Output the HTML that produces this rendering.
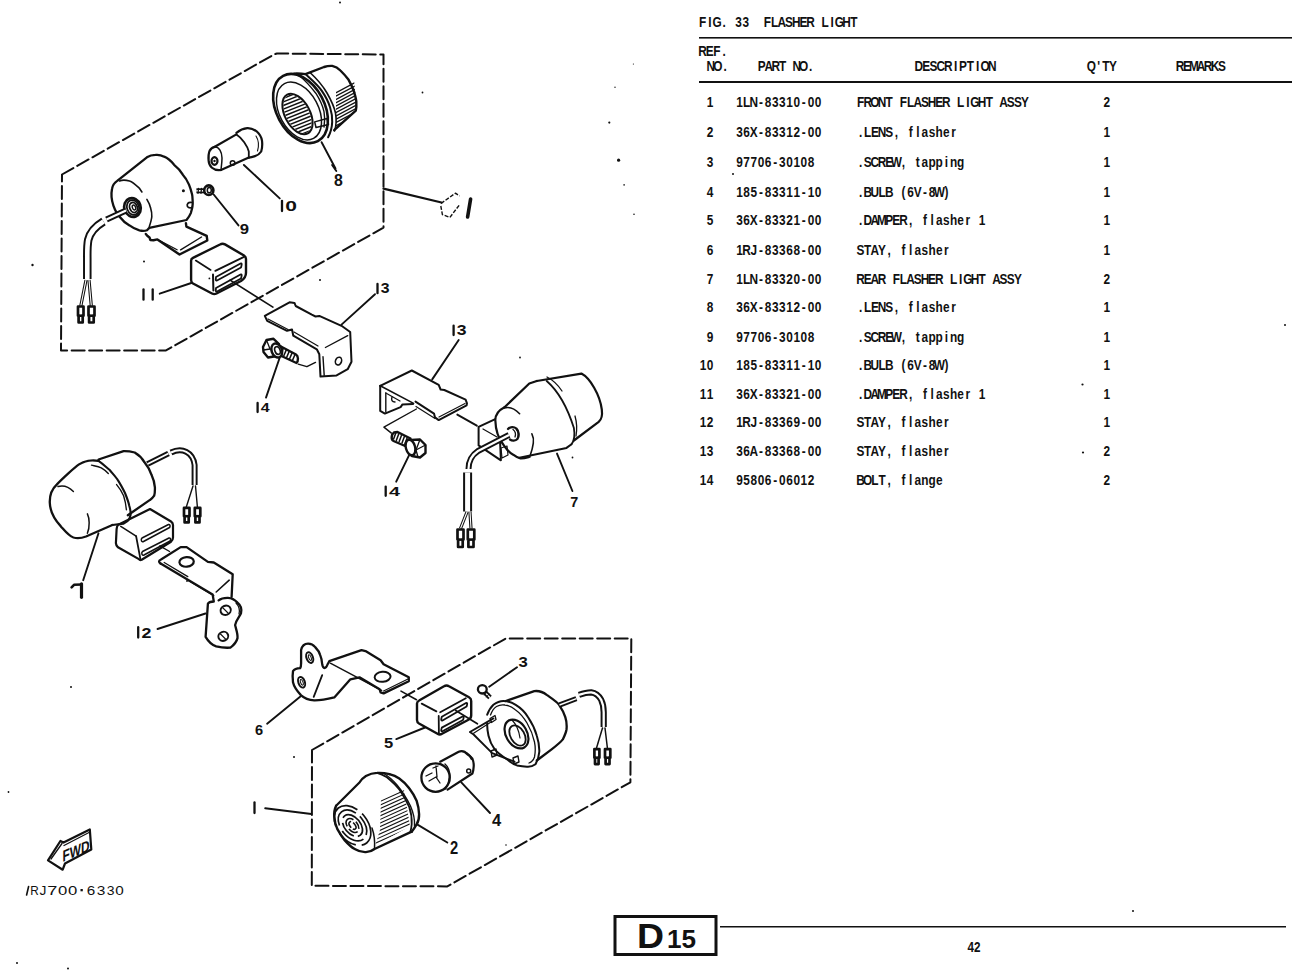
<!DOCTYPE html>
<html><head><meta charset="utf-8">
<style>
html,body{margin:0;padding:0;background:#fff;width:1292px;height:973px;overflow:hidden}
svg{position:absolute;left:0;top:0}
.tt text{font-family:"Liberation Sans",sans-serif;font-size:14.8px;font-weight:bold;fill:#111}
.lbl text{font-family:"Liberation Sans",sans-serif;font-weight:bold;fill:#111}
</style></head><body>
<svg width="1292" height="973" viewBox="0 0 1292 973">
<g class="tt">
<text transform="scale(0.8,1)" x="873.73 885.19 890.49 903.19 912.19 919.13 928.13 939.19 948.19 954.73 963.73 971.91 981.31 989.91 999.31 1007.91 1020.19 1026.73 1038.19 1043.49 1052.91 1062.73" y="26.6">FIG. 33  FLASHER LIGHT</text>
<text transform="scale(0.8,1)" x="872.91 882.31 891.73 903.19" y="56.3">REF.</text>
<text transform="scale(0.8,1)" x="883.03 891.62 904.32" y="70.9">NO.</text>
<text transform="scale(0.8,1)" x="947.19 955.53 964.28 973.85 985.07 990.53 998.87 1011.32" y="70.9">PART NO.</text>
<text transform="scale(0.8,1)" x="1143.13 1152.74 1161.94 1170.73 1179.93 1192.42 1198.74 1208.35 1220.02 1225.52 1235.13" y="70.9">DESCRIPTION</text>
<text transform="scale(0.8,1)" x="1358.40 1371.46 1377.76 1386.41" y="70.9">Q'TY</text>
<text transform="scale(0.8,1)" x="1469.66 1478.81 1486.34 1495.91 1504.66 1513.41 1522.56" y="70.9">REMARKS</text>
<text transform="scale(0.8,1)" x="883.54" y="107.4">1</text>
<text transform="scale(0.8,1)" x="920.23 928.76 936.87 948.69 955.98 964.92 973.85 982.79 991.73 1002.32 1009.60 1018.54" y="107.4">1LN-83310-00</text>
<text transform="scale(0.8,1)" x="1071.20 1079.31 1087.84 1097.19 1106.95 1118.35 1124.82 1133.76 1141.87 1151.22 1159.75 1169.10 1177.62 1189.85 1196.32 1207.73 1212.96 1222.31 1232.07 1243.48 1249.12 1258.47 1267.41 1276.35" y="107.4">FRONT FLASHER LIGHT ASSY</text>
<text transform="scale(0.8,1)" x="1379.35" y="107.4">2</text>
<text transform="scale(0.8,1)" x="883.54" y="137.0">2</text>
<text transform="scale(0.8,1)" x="920.23 929.17 937.28 948.69 955.98 964.92 973.85 982.79 991.73 1002.32 1009.60 1018.54" y="137.0">36X-83312-00</text>
<text transform="scale(0.8,1)" x="1073.66 1080.14 1088.66 1097.19 1106.53 1118.35 1127.29 1135.82 1145.16 1152.04 1160.98 1169.51 1178.85 1189.03" y="137.0">.LENS, flasher</text>
<text transform="scale(0.8,1)" x="1379.35" y="137.0">1</text>
<text transform="scale(0.8,1)" x="883.54" y="166.8">3</text>
<text transform="scale(0.8,1)" x="920.23 929.17 938.10 947.04 955.98 966.57 973.85 982.79 991.73 1000.67 1009.60" y="166.8">97706-30108</text>
<text transform="scale(0.8,1)" x="1073.66 1079.72 1088.25 1097.19 1106.53 1113.42 1127.29 1136.23 1144.75 1152.04 1160.57 1169.51 1180.91 1187.39 1196.32" y="166.8">.SCREW, tapping</text>
<text transform="scale(0.8,1)" x="1379.35" y="166.8">1</text>
<text transform="scale(0.8,1)" x="883.54" y="196.6">4</text>
<text transform="scale(0.8,1)" x="920.23 929.17 938.10 948.69 955.98 964.92 973.85 982.79 991.73 1002.32 1009.60 1018.54" y="196.6">185-83311-10</text>
<text transform="scale(0.8,1)" x="1073.66 1079.31 1088.25 1098.01 1106.12 1118.35 1126.88 1134.17 1142.28 1153.69 1160.98 1167.05 1180.50" y="196.6">.BULB (6V-8W)</text>
<text transform="scale(0.8,1)" x="1379.35" y="196.6">1</text>
<text transform="scale(0.8,1)" x="883.54" y="225.4">5</text>
<text transform="scale(0.8,1)" x="920.23 929.17 937.28 948.69 955.98 964.92 973.85 982.79 991.73 1002.32 1009.60 1018.54" y="225.4">36X-83321-00</text>
<text transform="scale(0.8,1)" x="1073.66 1079.31 1088.25 1096.37 1106.53 1115.47 1124.00 1136.23 1145.16 1153.69 1163.04 1169.92 1178.85 1187.39 1196.73 1206.90 1216.66 1223.54" y="225.4">.DAMPER, flasher 1</text>
<text transform="scale(0.8,1)" x="1379.35" y="225.4">1</text>
<text transform="scale(0.8,1)" x="883.54" y="254.9">6</text>
<text transform="scale(0.8,1)" x="920.23 927.94 938.10 948.69 955.98 964.92 973.85 982.79 991.73 1002.32 1009.60 1018.54" y="254.9">1RJ-83368-00</text>
<text transform="scale(0.8,1)" x="1070.78 1080.14 1088.25 1097.60 1109.41 1118.35 1126.88 1136.23 1143.10 1152.04 1160.57 1169.92 1180.09" y="254.9">STAY, flasher</text>
<text transform="scale(0.8,1)" x="1379.35" y="254.9">1</text>
<text transform="scale(0.8,1)" x="883.54" y="283.6">7</text>
<text transform="scale(0.8,1)" x="920.23 928.76 936.87 948.69 955.98 964.92 973.85 982.79 991.73 1002.32 1009.60 1018.54" y="283.6">1LN-83320-00</text>
<text transform="scale(0.8,1)" x="1070.37 1079.72 1088.25 1097.19 1109.41 1115.89 1124.82 1132.94 1142.28 1150.81 1160.16 1168.69 1180.91 1187.39 1198.79 1204.03 1213.37 1223.14 1234.54 1240.19 1249.53 1258.47 1267.41" y="283.6">REAR FLASHER LIGHT ASSY</text>
<text transform="scale(0.8,1)" x="1379.35" y="283.6">2</text>
<text transform="scale(0.8,1)" x="883.54" y="312.1">8</text>
<text transform="scale(0.8,1)" x="920.23 929.17 937.28 948.69 955.98 964.92 973.85 982.79 991.73 1002.32 1009.60 1018.54" y="312.1">36X-83312-00</text>
<text transform="scale(0.8,1)" x="1073.66 1080.14 1088.66 1097.19 1106.53 1118.35 1127.29 1135.82 1145.16 1152.04 1160.98 1169.51 1178.85 1189.03" y="312.1">.LENS, flasher</text>
<text transform="scale(0.8,1)" x="1379.35" y="312.1">1</text>
<text transform="scale(0.8,1)" x="883.54" y="341.6">9</text>
<text transform="scale(0.8,1)" x="920.23 929.17 938.10 947.04 955.98 966.57 973.85 982.79 991.73 1000.67 1009.60" y="341.6">97706-30108</text>
<text transform="scale(0.8,1)" x="1073.66 1079.72 1088.25 1097.19 1106.53 1113.42 1127.29 1136.23 1144.75 1152.04 1160.57 1169.51 1180.91 1187.39 1196.32" y="341.6">.SCREW, tapping</text>
<text transform="scale(0.8,1)" x="1379.35" y="341.6">1</text>
<text transform="scale(0.8,1)" x="874.60 883.54" y="370.3">10</text>
<text transform="scale(0.8,1)" x="920.23 929.17 938.10 948.69 955.98 964.92 973.85 982.79 991.73 1002.32 1009.60 1018.54" y="370.3">185-83311-10</text>
<text transform="scale(0.8,1)" x="1073.66 1079.31 1088.25 1098.01 1106.12 1118.35 1126.88 1134.17 1142.28 1153.69 1160.98 1167.05 1180.50" y="370.3">.BULB (6V-8W)</text>
<text transform="scale(0.8,1)" x="1379.35" y="370.3">1</text>
<text transform="scale(0.8,1)" x="874.60 883.54" y="398.8">11</text>
<text transform="scale(0.8,1)" x="920.23 929.17 937.28 948.69 955.98 964.92 973.85 982.79 991.73 1002.32 1009.60 1018.54" y="398.8">36X-83321-00</text>
<text transform="scale(0.8,1)" x="1073.66 1079.31 1088.25 1096.37 1106.53 1115.47 1124.00 1136.23 1145.16 1153.69 1163.04 1169.92 1178.85 1187.39 1196.73 1206.90 1216.66 1223.54" y="398.8">.DAMPER, flasher 1</text>
<text transform="scale(0.8,1)" x="1379.35" y="398.8">1</text>
<text transform="scale(0.8,1)" x="874.60 883.54" y="427.2">12</text>
<text transform="scale(0.8,1)" x="920.23 927.94 938.10 948.69 955.98 964.92 973.85 982.79 991.73 1002.32 1009.60 1018.54" y="427.2">1RJ-83369-00</text>
<text transform="scale(0.8,1)" x="1070.78 1080.14 1088.25 1097.60 1109.41 1118.35 1126.88 1136.23 1143.10 1152.04 1160.57 1169.92 1180.09" y="427.2">STAY, flasher</text>
<text transform="scale(0.8,1)" x="1379.35" y="427.2">1</text>
<text transform="scale(0.8,1)" x="874.60 883.54" y="455.6">13</text>
<text transform="scale(0.8,1)" x="920.23 929.17 936.87 948.69 955.98 964.92 973.85 982.79 991.73 1002.32 1009.60 1018.54" y="455.6">36A-83368-00</text>
<text transform="scale(0.8,1)" x="1070.78 1080.14 1088.25 1097.60 1109.41 1118.35 1126.88 1136.23 1143.10 1152.04 1160.57 1169.92 1180.09" y="455.6">STAY, flasher</text>
<text transform="scale(0.8,1)" x="1379.35" y="455.6">2</text>
<text transform="scale(0.8,1)" x="874.60 883.54" y="485.0">14</text>
<text transform="scale(0.8,1)" x="920.23 929.17 938.10 947.04 955.98 966.57 973.85 982.79 991.73 1000.67 1009.60" y="485.0">95806-06012</text>
<text transform="scale(0.8,1)" x="1070.37 1078.90 1089.07 1098.01 1109.41 1118.35 1126.88 1136.23 1143.10 1151.64 1160.57 1169.92" y="485.0">BOLT, flange</text>
<text transform="scale(0.8,1)" x="1379.35" y="485.0">2</text>
</g>
<rect x="699" y="37" width="593" height="1.6" fill="#111"/>
<rect x="699" y="81" width="593" height="2" fill="#111"/>
<rect x="720" y="926" width="566" height="1.5" fill="#111"/>
<rect x="615" y="916.5" width="101" height="38" fill="none" stroke="#111" stroke-width="3"/>
<text x="637" y="948.3" style="font-family:'Liberation Sans',sans-serif;font-weight:bold;font-size:35px;fill:#111" textLength="27" lengthAdjust="spacingAndGlyphs">D</text>
<text x="667" y="948.3" style="font-family:'Liberation Sans',sans-serif;font-weight:bold;font-size:26px;fill:#111" textLength="29" lengthAdjust="spacingAndGlyphs">15</text>
<text x="967.5" y="951.8" style="font-family:'Liberation Sans',sans-serif;font-size:14px;font-weight:bold;fill:#111" textLength="13" lengthAdjust="spacingAndGlyphs">42</text>
<path d="M 62.0 174.5 L 274.0 54.5 L 277.0 53.5 L 383.5 54.5 L 383.5 227.6 L 166.0 350.4 L 61.0 350.4 Z" fill="none" stroke="#111" stroke-width="2" stroke-linejoin="round" stroke-linecap="round" stroke-dasharray="13 4.5"/>
<line x1="383.5" y1="188.6" x2="441.5" y2="202.5" stroke="#111" stroke-width="2.3" stroke-linecap="round"/>
<path d="M 441 203.5 L 455.4 193.2 L 459.6 196 M 459.1 205.3 L 449.9 217.4 L 442.4 214.6 L 440.8 206" fill="none" stroke="#111" stroke-width="1.4" stroke-dasharray="4 1.6" stroke-linejoin="round"/>
<line x1="470.6" y1="199" x2="467.6" y2="217" stroke="#111" stroke-width="3.6" stroke-linecap="round"/>
<path d="M 117.2 180.9 C 114 183, 112.5 186, 112 189 C 111 194, 111.5 200, 113.4 205.6 C 115 210, 117 214, 119.6 216.8 C 122 220, 126 223.5, 129.5 225.4 C 133 228, 136 229.5, 139.4 230.4 C 142 231, 145 231, 147 230.2 L 149.3 227.9 L 186.5 220 C 189 217, 190 215, 190.8 213.1 C 192 209, 193 206, 192.7 202 C 192.5 198, 192.5 196, 192.1 194.5 C 191 190, 190 187, 189 184.6 C 187 180, 185 177, 182.8 174.7 C 180 170, 177 167, 174.1 164.8 C 171 161, 168 158, 164.2 156.7 C 161 155, 158 154.6, 155.5 154.9 C 152 155, 149 156, 146.9 157.3 Z" fill="none" stroke="#111" stroke-width="2.3" stroke-linejoin="round" stroke-linecap="round" />
<path d="M 119.6 180.9 C 123 179.5, 126 180, 129.5 180.9 C 133 182, 136 185, 139.4 188.3 L 141.9 192" fill="none" stroke="#111" stroke-width="1.6" stroke-linejoin="round" stroke-linecap="round" />
<path d="M 146.9 199.4 C 148.5 202, 150 205, 150.6 208.1 C 151.5 211, 152 214, 151.8 216.8 C 151.5 220, 150.5 223, 149.3 226.7" fill="none" stroke="#111" stroke-width="1.6" stroke-linejoin="round" stroke-linecap="round" />
<ellipse cx="132.5" cy="207.5" rx="8.2" ry="9.5" transform="rotate(-20 132.5 207.5)" fill="none" stroke="#111" stroke-width="2.6"/>
<ellipse cx="133" cy="207.5" rx="6" ry="7.5" transform="rotate(-20 133 207.5)" fill="none" stroke="#111" stroke-width="1.8"/>
<ellipse cx="133.5" cy="207.5" rx="3.8" ry="5.2" transform="rotate(-20 133.5 207.5)" fill="none" stroke="#111" stroke-width="1.8"/>
<ellipse cx="134" cy="207.5" rx="1.6" ry="2.6" transform="rotate(-20 134 207.5)" fill="none" stroke="#111" stroke-width="1.4"/>
<path d="M 126 210.5 L 106.5 219.5" fill="none" stroke="#111" stroke-width="6.2" stroke-linecap="butt" stroke-linejoin="round"/>
<path d="M 126 210.5 L 106.5 219.5" fill="none" stroke="#fff" stroke-width="2.1" stroke-linecap="butt" stroke-linejoin="round"/>
<path d="M 103.5 221.5 C 96 226, 90 232, 88.2 240 C 87.3 245, 87.2 250, 87.3 258 L 87.3 279" fill="none" stroke="#111" stroke-width="8.5" stroke-linecap="butt" stroke-linejoin="round"/>
<path d="M 103.5 221.5 C 96 226, 90 232, 88.2 240 C 87.3 245, 87.2 250, 87.3 258 L 87.3 279" fill="none" stroke="#fff" stroke-width="4.6" stroke-linecap="butt" stroke-linejoin="round"/>
<path d="M 86 280 L 80.8 306" fill="none" stroke="#111" stroke-width="3.2" stroke-linecap="butt" stroke-linejoin="round"/>
<path d="M 86 280 L 80.8 306" fill="none" stroke="#fff" stroke-width="1.1" stroke-linecap="butt" stroke-linejoin="round"/>
<path d="M 89 280 L 91.3 306" fill="none" stroke="#111" stroke-width="3.2" stroke-linecap="butt" stroke-linejoin="round"/>
<path d="M 89 280 L 91.3 306" fill="none" stroke="#fff" stroke-width="1.1" stroke-linecap="butt" stroke-linejoin="round"/>
<path d="M 78.0 306.5 L 83.5 306.5 L 83.5 315.7 L 82.7 315.7 L 82.7 322.5 L 78.6 322.5 L 78.6 315.7 L 78.0 315.7 Z" fill="none" stroke="#111" stroke-width="2.7" stroke-linejoin="round"/>
<line x1="78.0" y1="315.7" x2="83.5" y2="315.7" stroke="#111" stroke-width="2.6"/>
<path d="M 88.5 306.5 L 94.5 306.5 L 94.5 315.7 L 93.7 315.7 L 93.7 322.5 L 89.1 322.5 L 89.1 315.7 L 88.5 315.7 Z" fill="none" stroke="#111" stroke-width="2.7" stroke-linejoin="round"/>
<line x1="88.5" y1="315.7" x2="94.5" y2="315.7" stroke="#111" stroke-width="2.6"/>
<path d="M 192 202.5 C 188 201.5, 186.5 204.5, 187.5 206.5 C 188.5 208, 190.5 208, 192 207.5" fill="none" stroke="#111" stroke-width="1.7" stroke-linejoin="round" stroke-linecap="round" />
<circle cx="183.4" cy="190.8" r="1.5" fill="#111"/>
<path d="M 145.8 234 L 147.5 236 L 149.5 237.5 L 150.4 240 L 153.5 240.2 L 157.4 239.4 L 179.5 254.5 L 207.3 240.5 L 206.7 235.9 L 186.4 226.6 L 185.9 223.2" fill="none" stroke="#111" stroke-width="2.4" stroke-linejoin="round" stroke-linecap="round" />
<line x1="180.6" y1="249.8" x2="201.5" y2="237" stroke="#111" stroke-width="1.4" stroke-linecap="round"/>
<line x1="158.6" y1="240" x2="177.1" y2="249.8" stroke="#111" stroke-width="1.3" stroke-linecap="round"/>
<path d="M 196.4 190.8 L 205 190.8" fill="none" stroke="#111" stroke-width="5" stroke-linecap="butt" stroke-linejoin="round"/>
<path d="M 196.4 190.8 L 205 190.8" fill="none" stroke="#fff" stroke-width="1.6" stroke-linecap="butt" stroke-linejoin="round"/>
<line x1="198.5" y1="188.3" x2="198" y2="193.3" stroke="#111" stroke-width="1.3" stroke-linecap="round"/>
<line x1="201.5" y1="188.3" x2="201" y2="193.3" stroke="#111" stroke-width="1.3" stroke-linecap="round"/>
<ellipse cx="208.8" cy="190.2" rx="4.6" ry="4.8" transform="rotate(0 208.8 190.2)" fill="none" stroke="#111" stroke-width="2.6"/>
<ellipse cx="209.3" cy="190.2" rx="2" ry="2.6" transform="rotate(0 209.3 190.2)" fill="none" stroke="#111" stroke-width="1.5"/>
<line x1="213.7" y1="194.5" x2="238.5" y2="225.4" stroke="#111" stroke-width="1.9" stroke-linecap="round"/>
<path d="M 214.8 146.8 C 210 147.5, 208 153, 208.6 160.7 C 209 166, 213 171, 221 170" fill="none" stroke="#111" stroke-width="2.2" stroke-linejoin="round" stroke-linecap="round" />
<path d="M 214.8 146.8 C 219 147, 222 152, 222 158 C 222 164, 221 168, 221 170" fill="none" stroke="#111" stroke-width="1.5" stroke-linejoin="round" stroke-linecap="round" />
<ellipse cx="214.5" cy="161" rx="3" ry="3.8" transform="rotate(0 214.5 161)" fill="none" stroke="#111" stroke-width="2.2"/>
<circle cx="214.5" cy="161" r="1.2" fill="#111"/>
<line x1="214.8" y1="146.8" x2="236.4" y2="134.4" stroke="#111" stroke-width="2.2" stroke-linecap="round"/>
<line x1="221" y1="170" x2="248.8" y2="157.6" stroke="#111" stroke-width="2.2" stroke-linecap="round"/>
<path d="M 236.4 132.9 C 240 130, 244 128.5, 247.3 128.2 C 251 128, 254 129.5, 256.6 131.3 C 259.5 134, 261.5 137, 262 140.6 C 262.5 145, 262 149, 261.2 151.5 C 259.5 154, 257.5 155.5, 255 156.1 C 252.5 157, 250.5 157.5, 248.8 157.6" fill="none" stroke="#111" stroke-width="2.2" stroke-linejoin="round" stroke-linecap="round" />
<path d="M 236.4 134.4 C 239 136, 242 139, 244.2 142.2 C 246.5 145.5, 248 148, 248.8 151.5 L 248.8 157.6" fill="none" stroke="#111" stroke-width="1.8" stroke-linejoin="round" stroke-linecap="round" />
<path d="M 256 136 C 258.5 140, 259 146, 257.5 151" fill="none" stroke="#111" stroke-width="1.1" stroke-linejoin="round" stroke-linecap="round" />
<circle cx="232.6" cy="163" r="2.3" fill="none" stroke="#111" stroke-width="1.5"/>
<line x1="243.9" y1="165" x2="279.7" y2="198.4" stroke="#111" stroke-width="1.9" stroke-linecap="round"/>
<ellipse cx="300.5" cy="108.5" rx="24" ry="37" transform="rotate(-28 300.5 108.5)" fill="none" stroke="#111" stroke-width="2.6"/>
<ellipse cx="299" cy="111" rx="19.5" ry="31" transform="rotate(-28 299 111)" fill="none" stroke="#111" stroke-width="1.5"/>
<ellipse cx="297.5" cy="114" rx="12.5" ry="22" transform="rotate(-28 297.5 114)" fill="none" stroke="#111" stroke-width="2"/>
<clipPath id="c8"><ellipse cx="297.5" cy="114" rx="11.5" ry="21" transform="rotate(-28 297.5 114)"/></clipPath>
<g clip-path="url(#c8)"><line x1="270" y1="100.0" x2="325" y2="78.0" stroke="#111" stroke-width="1.5"/><line x1="270" y1="103.6" x2="325" y2="81.6" stroke="#111" stroke-width="1.5"/><line x1="270" y1="107.2" x2="325" y2="85.2" stroke="#111" stroke-width="1.5"/><line x1="270" y1="110.8" x2="325" y2="88.8" stroke="#111" stroke-width="1.5"/><line x1="270" y1="114.4" x2="325" y2="92.4" stroke="#111" stroke-width="1.5"/><line x1="270" y1="118.0" x2="325" y2="96.0" stroke="#111" stroke-width="1.5"/><line x1="270" y1="121.6" x2="325" y2="99.6" stroke="#111" stroke-width="1.5"/><line x1="270" y1="125.2" x2="325" y2="103.2" stroke="#111" stroke-width="1.5"/><line x1="270" y1="128.8" x2="325" y2="106.8" stroke="#111" stroke-width="1.5"/><line x1="270" y1="132.4" x2="325" y2="110.4" stroke="#111" stroke-width="1.5"/><line x1="270" y1="136.0" x2="325" y2="114.0" stroke="#111" stroke-width="1.5"/><line x1="270" y1="139.6" x2="325" y2="117.6" stroke="#111" stroke-width="1.5"/><line x1="270" y1="143.2" x2="325" y2="121.2" stroke="#111" stroke-width="1.5"/><line x1="270" y1="146.8" x2="325" y2="124.80000000000001" stroke="#111" stroke-width="1.5"/><line x1="270" y1="150.4" x2="325" y2="128.4" stroke="#111" stroke-width="1.5"/><line x1="270" y1="154.0" x2="325" y2="132.0" stroke="#111" stroke-width="1.5"/><line x1="270" y1="157.6" x2="325" y2="135.6" stroke="#111" stroke-width="1.5"/><line x1="270" y1="161.2" x2="325" y2="139.2" stroke="#111" stroke-width="1.5"/></g>
<path d="M 294.2 73.6 C 298 73.5, 302 73.6, 305.5 74.1 L 324 67 C 327 66, 330 65.8, 332.2 65.9 C 335 66.5, 338 68, 340.4 70.5 C 344 74, 346.5 77, 348.6 79.8 C 351 84, 352.5 87, 353.8 91.1 C 355 95, 356 98, 356.3 101.4 C 356.5 105, 356.5 108, 355.8 110.6 L 334.2 130.1" fill="none" stroke="#111" stroke-width="2.4" stroke-linejoin="round" stroke-linecap="round" />
<path d="M 305.5 74.1 C 312 80, 318 85, 322 91.1 C 326 97, 328.5 102, 330.1 107.5 C 331.5 112, 332.5 117, 332.2 121.9 C 332 127, 331 132, 328.1 137.3" fill="none" stroke="#111" stroke-width="2" stroke-linejoin="round" stroke-linecap="round" />
<path d="M 310 72.5 C 317 79, 323 86, 327 93 C 331 100, 334 106, 335.5 113 C 336.5 119, 336.5 125, 334.5 131" fill="none" stroke="#111" stroke-width="1.6" stroke-linejoin="round" stroke-linecap="round" />
<path d="M 299.3 75.7 C 306 81, 311 87, 315.8 93.2 C 319.5 99, 322.5 105, 324 111.6 C 325 117, 325 122, 324 127" fill="none" stroke="#111" stroke-width="1.4" stroke-linejoin="round" stroke-linecap="round" />
<path d="M 314.7 121.9 L 327.0 118.5 L 328.5 124.5 L 316.0 127.5 Z" fill="none" stroke="#111" stroke-width="1.5" stroke-linejoin="round" stroke-linecap="round"/>
<clipPath id="c8b"><path d="M 336 86 L 354 80 L 357 108 L 336 128 Z"/></clipPath>
<g clip-path="url(#c8b)"><line x1="330" y1="96.0" x2="360" y2="80.0" stroke="#111" stroke-width="1.3"/><line x1="330" y1="99.3" x2="360" y2="83.3" stroke="#111" stroke-width="1.3"/><line x1="330" y1="102.6" x2="360" y2="86.6" stroke="#111" stroke-width="1.3"/><line x1="330" y1="105.9" x2="360" y2="89.9" stroke="#111" stroke-width="1.3"/><line x1="330" y1="109.2" x2="360" y2="93.2" stroke="#111" stroke-width="1.3"/><line x1="330" y1="112.5" x2="360" y2="96.5" stroke="#111" stroke-width="1.3"/><line x1="330" y1="115.8" x2="360" y2="99.8" stroke="#111" stroke-width="1.3"/><line x1="330" y1="119.1" x2="360" y2="103.1" stroke="#111" stroke-width="1.3"/><line x1="330" y1="122.4" x2="360" y2="106.4" stroke="#111" stroke-width="1.3"/><line x1="330" y1="125.7" x2="360" y2="109.7" stroke="#111" stroke-width="1.3"/><line x1="330" y1="129.0" x2="360" y2="113.0" stroke="#111" stroke-width="1.3"/><line x1="330" y1="132.3" x2="360" y2="116.3" stroke="#111" stroke-width="1.3"/><line x1="330" y1="135.6" x2="360" y2="119.6" stroke="#111" stroke-width="1.3"/></g>
<line x1="321.6" y1="142.2" x2="335.5" y2="168.5" stroke="#111" stroke-width="1.9" stroke-linecap="round"/>
<line x1="332.1" y1="165" x2="336.3" y2="171" stroke="#111" stroke-width="1.9" stroke-linecap="round"/>
<path d="M 191.1 261 C 191 259.5, 191.5 258.5, 193 257.8 L 220 244.5 C 221.5 243.6, 223.5 243.6, 225 244.4 L 244 255.5 C 245.5 256.5, 246 257.5, 246 259 L 246 272.7 C 246 276, 244 279, 241 281 L 216.5 293.5 C 215 294.3, 213.5 294.3, 212 293.5 L 193 283.5 C 191.5 282.6, 191.1 281.5, 191.1 280 Z" fill="none" stroke="#111" stroke-width="2.4" stroke-linejoin="round" stroke-linecap="round" />
<line x1="195.8" y1="260.6" x2="210.6" y2="269.9" stroke="#111" stroke-width="1.8" stroke-linecap="round"/>
<line x1="213" y1="274.6" x2="213.4" y2="290.4" stroke="#111" stroke-width="2" stroke-linecap="round"/>
<line x1="215.3" y1="270.9" x2="244" y2="256.9" stroke="#111" stroke-width="1.8" stroke-linecap="round"/>
<path d="M 216 277 L 240.5 263.5 C 241.5 263, 242 264, 241.5 265.5 L 241 267.5 L 217 280.5 C 216 281, 215.5 280, 215.8 279 Z" fill="none" stroke="#111" stroke-width="1.8" stroke-linejoin="round" stroke-linecap="round" />
<path d="M 216 288 L 240.5 274.5 C 241.5 274, 242 275, 241.5 276.5 L 241 278.5 L 217 291.5 C 216 292, 215.5 291, 215.8 290 Z" fill="none" stroke="#111" stroke-width="1.8" stroke-linejoin="round" stroke-linecap="round" />
<line x1="159.7" y1="293.7" x2="191.3" y2="283" stroke="#111" stroke-width="1.9" stroke-linecap="round"/>
<line x1="230.1" y1="280.1" x2="272.9" y2="307.1" stroke="#111" stroke-width="1.7" stroke-linecap="round"/>
<path d="M 264.8 315.9 L 289.5 302.3 L 294.5 302.9 L 295.7 306.0 L 311.8 314.7 L 315.5 316.5 L 319.3 315.9 L 341.5 325.8 L 350.2 332.0 L 351.5 361.7 L 347.7 369.2 L 336.6 375.4 L 320.5 376.6 L 319.3 354.3 L 316.8 349.3 L 293.3 335.7 L 292.0 329.5 L 287.0 330.8 L 267.2 320.9 Z" fill="none" stroke="#111" stroke-width="2" stroke-linejoin="round" stroke-linecap="round"/>
<line x1="268" y1="319" x2="288" y2="329.5" stroke="#111" stroke-width="1.2" stroke-linecap="round"/>
<line x1="294" y1="332" x2="318" y2="346" stroke="#111" stroke-width="1.2" stroke-linecap="round"/>
<line x1="325.4" y1="347.5" x2="347.7" y2="335.7" stroke="#111" stroke-width="1.4" stroke-linecap="round"/>
<line x1="323" y1="356.8" x2="324.2" y2="375.4" stroke="#111" stroke-width="1.4" stroke-linecap="round"/>
<ellipse cx="338.5" cy="361.1" rx="3" ry="4" transform="rotate(20 338.5 361.1)" fill="none" stroke="#111" stroke-width="1.6"/>
<line x1="341.5" y1="324.6" x2="375" y2="294.2" stroke="#111" stroke-width="1.9" stroke-linecap="round"/>
<path d="M 279 345.5 L 296 354.5 C 298.5 356, 298.5 361, 296.5 363 L 276 353.5 Z" fill="#fff" stroke="#111" stroke-width="2.4" stroke-linejoin="round"/>
<line x1="283.5" y1="348.0" x2="280.9" y2="354.2" stroke="#111" stroke-width="1.5" stroke-linecap="round"/>
<line x1="286.4" y1="349.6" x2="283.8" y2="355.8" stroke="#111" stroke-width="1.5" stroke-linecap="round"/>
<line x1="289.3" y1="351.1" x2="286.7" y2="357.3" stroke="#111" stroke-width="1.5" stroke-linecap="round"/>
<line x1="292.2" y1="352.6" x2="289.6" y2="358.8" stroke="#111" stroke-width="1.5" stroke-linecap="round"/>
<line x1="295.1" y1="354.2" x2="292.5" y2="360.4" stroke="#111" stroke-width="1.5" stroke-linecap="round"/>
<polygon points="263,347 266.5,340 273.5,338.8 279,344 277,356 268,357.5 263.5,352" fill="#fff" stroke="#111" stroke-width="2.4" stroke-linejoin="round"/>
<line x1="266.5" y1="340" x2="270" y2="349" stroke="#111" stroke-width="1.3" stroke-linecap="round"/>
<line x1="263.5" y1="350" x2="270" y2="349" stroke="#111" stroke-width="1.3" stroke-linecap="round"/>
<ellipse cx="276.8" cy="350.5" rx="5.2" ry="7.2" transform="rotate(-20 276.8 350.5)" fill="#fff" stroke="#111" stroke-width="2.4"/>
<ellipse cx="277.5" cy="350.5" rx="2.6" ry="4" transform="rotate(-20 277.5 350.5)" fill="none" stroke="#111" stroke-width="1.6"/>
<line x1="279.6" y1="358" x2="266" y2="397.6" stroke="#111" stroke-width="1.9" stroke-linecap="round"/>
<path d="M 298.2 364.2 L 306.9 366.7 L 315.5 362.4" fill="none" stroke="#111" stroke-width="1.4" stroke-linejoin="round" stroke-linecap="round"/>
<path d="M 380.2 385.8 L 411.8 370.5 L 438.7 384.9 L 440.6 389.5 L 444.3 390.0 L 465.6 399.7 L 467.0 403.4 L 466.6 405.3 L 438.7 420.1 L 435.0 417.4 L 434.0 413.6 L 415.5 401.6" fill="none" stroke="#111" stroke-width="2" stroke-linejoin="round" stroke-linecap="round"/>
<path d="M 380.2 385.8 L 413.6 403.4" fill="none" stroke="#111" stroke-width="1.6" stroke-linejoin="round" stroke-linecap="round"/>
<path d="M 380.2 385.8 L 380.2 410.9 L 384.9 413.6 L 400.6 407.1 L 402.5 404.4 L 413.0 404.0" fill="none" stroke="#111" stroke-width="2" stroke-linejoin="round" stroke-linecap="round"/>
<line x1="385.8" y1="393" x2="385.8" y2="412" stroke="#111" stroke-width="1.4" stroke-linecap="round"/>
<path d="M 385.8 393.0 L 400.0 401.0" fill="none" stroke="#111" stroke-width="1.2" stroke-linejoin="round" stroke-linecap="round"/>
<path d="M 392 397 C 391 400, 392 402, 395 402" fill="none" stroke="#111" stroke-width="1.4" stroke-linejoin="round" stroke-linecap="round" />
<line x1="416" y1="406.5" x2="435" y2="418.5" stroke="#111" stroke-width="1.2" stroke-linecap="round"/>
<line x1="439" y1="417" x2="465" y2="403.5" stroke="#111" stroke-width="1.2" stroke-linecap="round"/>
<line x1="458.7" y1="340" x2="432.2" y2="379.4" stroke="#111" stroke-width="1.9" stroke-linecap="round"/>
<path d="M 416.4 409.0 L 383.9 427.1 L 391.4 433.1" fill="none" stroke="#111" stroke-width="1.4" stroke-linejoin="round" stroke-linecap="round"/>
<path d="M 397.5 432 L 410.5 438.5 L 407.5 447 L 393.5 441 C 391 440, 391 434.5, 394 432.5 Z" fill="#fff" stroke="#111" stroke-width="2.4" stroke-linejoin="round"/>
<line x1="396.0" y1="432.5" x2="393.6" y2="439.0" stroke="#111" stroke-width="1.5" stroke-linecap="round"/>
<line x1="398.8" y1="433.8" x2="396.4" y2="440.3" stroke="#111" stroke-width="1.5" stroke-linecap="round"/>
<line x1="401.6" y1="435.1" x2="399.2" y2="441.6" stroke="#111" stroke-width="1.5" stroke-linecap="round"/>
<line x1="404.4" y1="436.4" x2="402.0" y2="442.9" stroke="#111" stroke-width="1.5" stroke-linecap="round"/>
<line x1="407.2" y1="437.7" x2="404.8" y2="444.2" stroke="#111" stroke-width="1.5" stroke-linecap="round"/>
<polygon points="411,440 420,439.5 425.5,445 425.5,453 420,457.5 412,456 409,448" fill="#fff" stroke="#111" stroke-width="2.4" stroke-linejoin="round"/>
<line x1="420" y1="439.5" x2="416" y2="450" stroke="#111" stroke-width="1.3" stroke-linecap="round"/>
<line x1="425.5" y1="445" x2="416" y2="450" stroke="#111" stroke-width="1.3" stroke-linecap="round"/>
<line x1="416" y1="450" x2="418" y2="457" stroke="#111" stroke-width="1.3" stroke-linecap="round"/>
<ellipse cx="410.5" cy="447.5" rx="4.6" ry="8" transform="rotate(-15 410.5 447.5)" fill="#fff" stroke="#111" stroke-width="2.4"/>
<line x1="409" y1="455.3" x2="396.2" y2="481.7" stroke="#111" stroke-width="1.9" stroke-linecap="round"/>
<line x1="457.3" y1="414.6" x2="476.8" y2="425.7" stroke="#111" stroke-width="1.9" stroke-linecap="round"/>
<path d="M 536.8 381 L 581.4 373.6 C 590 378, 600 395, 601.8 409.5 C 602.5 415, 601 420, 598.7 421.9 L 573.9 440.5" fill="none" stroke="#111" stroke-width="2.2" stroke-linejoin="round" stroke-linecap="round" />
<path d="M 546.7 381 C 557 390, 566 403, 573.9 428.1 C 575 435, 574 441, 571.5 444.2" fill="none" stroke="#111" stroke-width="1.8" stroke-linejoin="round" stroke-linecap="round" />
<path d="M 547 377 C 553 380, 558 385, 562 391" fill="none" stroke="#111" stroke-width="1.3" stroke-linejoin="round" stroke-linecap="round" />
<path d="M 575 416 C 577 423, 577 430, 576 436" fill="none" stroke="#111" stroke-width="1.3" stroke-linejoin="round" stroke-linecap="round" />
<path d="M 504.5 407.2 L 529.3 383.5 L 536.8 381" fill="none" stroke="#111" stroke-width="2.2" stroke-linejoin="round" stroke-linecap="round" />
<path d="M 519.4 457.8 L 566.5 447.9 L 571.5 444.2" fill="none" stroke="#111" stroke-width="2" stroke-linejoin="round" stroke-linecap="round" />
<path d="M 504.5 407.2 C 499 410, 495.5 414, 495.3 420 C 495.5 428, 497 437, 503.8 445.3 C 507 450, 510 453, 513.2 454.7 C 515.5 456.5, 518 458, 520.4 458.3 C 524 458.5, 527 457.5, 529.7 456.8" fill="none" stroke="#111" stroke-width="2.2" stroke-linejoin="round" stroke-linecap="round" />
<path d="M 504.5 407.9 C 510 406.5, 515 409, 519.6 413.7" fill="none" stroke="#111" stroke-width="1.6" stroke-linejoin="round" stroke-linecap="round" />
<path d="M 531.9 433.8 C 533.5 437, 533.8 440, 533.3 443.2 C 532.8 447, 531.8 451, 530.4 454.7" fill="none" stroke="#111" stroke-width="1.6" stroke-linejoin="round" stroke-linecap="round" />
<path d="M 508 429 C 510 426.5, 514 426.5, 516.5 428.5 C 519 431, 519.5 436, 517.5 439 C 515.5 441, 512 441, 510 439.5" fill="none" stroke="#111" stroke-width="2.2" stroke-linejoin="round" stroke-linecap="round" />
<path d="M 513 429.5 C 515 431, 516 434, 515 437" fill="none" stroke="#111" stroke-width="1.3" stroke-linejoin="round" stroke-linecap="round" />
<path d="M 516 429 C 518.5 432, 518.5 436, 517 439" fill="none" stroke="#111" stroke-width="1.2" stroke-linejoin="round" stroke-linecap="round" />
<path d="M 494.7 419.4 L 478.6 426.9 L 478.6 445.4 L 500.9 460.3 L 500.0 440.0" fill="none" stroke="#111" stroke-width="2" stroke-linejoin="round" stroke-linecap="round"/>
<line x1="483" y1="429" x2="497" y2="437" stroke="#111" stroke-width="1.2" stroke-linecap="round"/>
<path d="M 501.0 448.0 L 507.0 446.0 L 508.0 455.0 L 502.0 458.0 Z" fill="none" stroke="#111" stroke-width="1.2" stroke-linejoin="round" stroke-linecap="round"/>
<path d="M 509 435 L 478 451 C 472 455, 468.5 460, 468.5 469" fill="none" stroke="#111" stroke-width="6" stroke-linecap="butt" stroke-linejoin="round"/>
<path d="M 509 435 L 478 451 C 472 455, 468.5 460, 468.5 469" fill="none" stroke="#fff" stroke-width="2.2" stroke-linecap="butt" stroke-linejoin="round"/>
<path d="M 467.6 472.5 L 467.6 511.5" fill="none" stroke="#111" stroke-width="9" stroke-linecap="butt" stroke-linejoin="round"/>
<path d="M 467.6 472.5 L 467.6 511.5" fill="none" stroke="#fff" stroke-width="5" stroke-linecap="butt" stroke-linejoin="round"/>
<path d="M 467 512 L 460.5 528.5" fill="none" stroke="#111" stroke-width="3.2" stroke-linecap="butt" stroke-linejoin="round"/>
<path d="M 467 512 L 460.5 528.5" fill="none" stroke="#fff" stroke-width="1.1" stroke-linecap="butt" stroke-linejoin="round"/>
<path d="M 470 512 L 471 528.5" fill="none" stroke="#111" stroke-width="3.2" stroke-linecap="butt" stroke-linejoin="round"/>
<path d="M 470 512 L 471 528.5" fill="none" stroke="#fff" stroke-width="1.1" stroke-linecap="butt" stroke-linejoin="round"/>
<path d="M 457.5 529.5 L 463.5 529.5 L 463.5 539.6 L 462.7 539.6 L 462.7 547.0 L 458.1 547.0 L 458.1 539.6 L 457.5 539.6 Z" fill="none" stroke="#111" stroke-width="2.7" stroke-linejoin="round"/>
<line x1="457.5" y1="539.6" x2="463.5" y2="539.6" stroke="#111" stroke-width="2.6"/>
<path d="M 467.8 529.5 L 474.3 529.5 L 474.3 539.6 L 473.5 539.6 L 473.5 547.0 L 468.4 547.0 L 468.4 539.6 L 467.8 539.6 Z" fill="none" stroke="#111" stroke-width="2.7" stroke-linejoin="round"/>
<line x1="467.8" y1="539.6" x2="474.3" y2="539.6" stroke="#111" stroke-width="2.6"/>
<line x1="557" y1="453.6" x2="572.4" y2="491" stroke="#111" stroke-width="1.9" stroke-linecap="round"/>
<path d="M 98.5 460.9 C 92 459.5, 84 461, 79 464.4 C 75 467, 62 479, 56.7 484.6 C 52 489, 49.5 495, 49.8 502.7 C 50 510, 54 519, 60.9 526.4 C 65 531, 69 536, 73.4 537.5 C 77 538.5, 82 538, 86 536.5 L 112.4 525" fill="none" stroke="#111" stroke-width="2.3" stroke-linejoin="round" stroke-linecap="round" />
<path d="M 58 486.5 C 63 485, 69 487, 73.4 491.5" fill="none" stroke="#111" stroke-width="1.5" stroke-linejoin="round" stroke-linecap="round" />
<path d="M 87.4 513.8 C 89.5 518, 90 527, 87.4 533.3" fill="none" stroke="#111" stroke-width="1.5" stroke-linejoin="round" stroke-linecap="round" />
<path d="M 98.5 460.9 C 103 464, 106 467, 109.7 470 C 113 474, 116 477, 118 480.4 C 121 485, 123 489, 125 493 C 127 498, 128.5 502, 129.2 505.5 C 130.5 510, 131 513, 130.5 515.2 C 130 518, 129 519.5, 127.8 520.8 L 123.6 523.6 L 112.4 525" fill="none" stroke="#111" stroke-width="2.1" stroke-linejoin="round" stroke-linecap="round" />
<path d="M 91.5 465.1 C 95 466, 98 466.5, 101.3 467.9 C 104 469.5, 106.5 471.5, 108.3 473.4" fill="none" stroke="#111" stroke-width="1.4" stroke-linejoin="round" stroke-linecap="round" />
<path d="M 116.6 484.6 C 119.5 488, 122 492, 123.6 495.7 C 125 500, 126 505, 126.4 509.7" fill="none" stroke="#111" stroke-width="1.4" stroke-linejoin="round" stroke-linecap="round" />
<path d="M 98.5 459.5 L 123.6 451.1 C 128 451, 131 451.5, 134.7 452.5 C 139 455, 142 458, 144.5 462.3 C 147.5 466, 150 470, 151.5 474.8 C 153.5 479, 154.5 483, 154.9 487.4 C 155 491, 155 493, 154.2 495.7 C 153 497.5, 151.5 499, 150 499.9 L 127.8 515.2" fill="none" stroke="#111" stroke-width="2.3" stroke-linejoin="round" stroke-linecap="round" />
<path d="M 147.5 464 L 168.5 453.5" fill="none" stroke="#111" stroke-width="5.8" stroke-linecap="butt" stroke-linejoin="round"/>
<path d="M 147.5 464 L 168.5 453.5" fill="none" stroke="#fff" stroke-width="1.9" stroke-linecap="butt" stroke-linejoin="round"/>
<path d="M 171 452.5 C 182 447, 193 452, 194.6 465 L 194.6 485" fill="none" stroke="#111" stroke-width="6" stroke-linecap="butt" stroke-linejoin="round"/>
<path d="M 171 452.5 C 182 447, 193 452, 194.6 465 L 194.6 485" fill="none" stroke="#fff" stroke-width="2.1" stroke-linecap="butt" stroke-linejoin="round"/>
<line x1="193" y1="486" x2="186.3" y2="507" stroke="#111" stroke-width="1.4" stroke-linecap="round"/>
<line x1="195.5" y1="486" x2="197.4" y2="507" stroke="#111" stroke-width="1.4" stroke-linecap="round"/>
<path d="M 184.0 507.9 L 189.5 507.9 L 189.5 516.2 L 188.7 516.2 L 188.7 522.4 L 184.6 522.4 L 184.6 516.2 L 184.0 516.2 Z" fill="none" stroke="#111" stroke-width="2.7" stroke-linejoin="round"/>
<line x1="184.0" y1="516.2" x2="189.5" y2="516.2" stroke="#111" stroke-width="2.6"/>
<path d="M 194.8 507.9 L 200.3 507.9 L 200.3 516.2 L 199.5 516.2 L 199.5 522.4 L 195.4 522.4 L 195.4 516.2 L 194.8 516.2 Z" fill="none" stroke="#111" stroke-width="2.7" stroke-linejoin="round"/>
<line x1="194.8" y1="516.2" x2="200.3" y2="516.2" stroke="#111" stroke-width="2.6"/>
<path d="M 118 525 L 120.8 523.6 L 150 509 L 171 521.5 C 172.5 522.5, 173 523, 173 525 L 173 537.5 C 173 539.5, 172.5 540.5, 171 541.7 L 141.7 559.8 C 140.5 560.3, 139.5 560, 138.9 559.1 L 118 547.3 C 116.5 546, 116 545, 115.9 543.1 L 116.6 529.2 C 116.8 527, 117 526, 118 525 Z" fill="none" stroke="#111" stroke-width="2.2" stroke-linejoin="round" stroke-linecap="round" />
<path d="M 120.8 526.4 L 136.1 536.1" fill="none" stroke="#111" stroke-width="1.6" stroke-linejoin="round" stroke-linecap="round"/>
<line x1="136.1" y1="536.1" x2="140.3" y2="558.4" stroke="#111" stroke-width="1.8" stroke-linecap="round"/>
<path d="M 142 538 L 168.5 524.5 C 170 524, 170.5 526, 169.6 527.5 L 143.5 541.5 C 141.5 542.5, 140.5 539.5, 142 538 Z" fill="none" stroke="#111" stroke-width="1.5" stroke-linejoin="round" stroke-linecap="round" />
<path d="M 142.5 551.5 L 169 538 C 170.5 537.5, 171 539.5, 170.1 541 L 144 555 C 142 556, 141 553, 142.5 551.5 Z" fill="none" stroke="#111" stroke-width="1.5" stroke-linejoin="round" stroke-linecap="round" />
<line x1="98.5" y1="533.3" x2="83.2" y2="580.2" stroke="#111" stroke-width="1.9" stroke-linecap="round"/>
<line x1="159.8" y1="545.9" x2="169.6" y2="551.5" stroke="#111" stroke-width="1.4" stroke-linecap="round"/>
<path d="M 160.6 563.6 C 158.5 562, 158.5 560.5, 161 559.5 L 180.7 547.1 L 186.6 547.1 L 207.9 561.9 L 213.8 562.5 L 232.7 574.3 L 231.6 597" fill="none" stroke="#111" stroke-width="2.3" stroke-linejoin="round" stroke-linecap="round" />
<path d="M 160.6 563.6 L 212.6 594.4 L 213.8 601.5 C 211 601.5, 208.5 602.5, 207.9 603.8 L 205.6 636.9 C 208 641, 212 645, 216.2 646.4 C 221 647.5, 226 648, 230.4 647.6 C 234 645, 236.5 642, 237.5 638.1 C 238 634, 236 629, 235.1 625.1 C 236 620, 239.5 617, 241 613.3 C 242 609, 240.5 605, 237.5 602.6 C 235 600, 231.5 598, 228 597.9 C 224.5 597.8, 221 598.5, 218.6 600.3" fill="none" stroke="#111" stroke-width="2.3" stroke-linejoin="round" stroke-linecap="round" />
<line x1="164.2" y1="562.5" x2="187.8" y2="576.6" stroke="#111" stroke-width="1.3" stroke-linecap="round"/>
<line x1="187.8" y1="580.2" x2="213.8" y2="595.6" stroke="#111" stroke-width="1.3" stroke-linecap="round"/>
<ellipse cx="186.6" cy="561.9" rx="7.2" ry="4.8" transform="rotate(-5 186.6 561.9)" fill="none" stroke="#111" stroke-width="2.2"/>
<ellipse cx="225.7" cy="610.3" rx="5.2" ry="4.6" transform="rotate(-20 225.7 610.3)" fill="none" stroke="#111" stroke-width="2"/>
<ellipse cx="223.3" cy="636.3" rx="5" ry="4.5" transform="rotate(-20 223.3 636.3)" fill="none" stroke="#111" stroke-width="2"/>
<line x1="223" y1="608" x2="228" y2="613" stroke="#111" stroke-width="1.1" stroke-linecap="round"/>
<line x1="220.5" y1="634" x2="225.5" y2="639" stroke="#111" stroke-width="1.1" stroke-linecap="round"/>
<line x1="216.2" y1="592" x2="229.2" y2="580.2" stroke="#111" stroke-width="1.6" stroke-linecap="round"/>
<path d="M 236 603 C 239 606, 240 610, 239 614" fill="none" stroke="#111" stroke-width="1.2" stroke-linejoin="round" stroke-linecap="round" />
<line x1="157.5" y1="629" x2="205.5" y2="613.5" stroke="#111" stroke-width="1.9" stroke-linecap="round"/>
<path d="M 301.1 663.2 L 301.1 650 C 302 646, 305 643.6, 308.1 643.6 C 311 643.6, 313.5 645, 315.2 647.1 C 318 650, 319.5 652.5, 320.2 655.1 C 321.5 658, 322 661, 322.2 664.2 C 322.5 666.5, 323 668, 324.5 668 C 326 668, 327 666, 327.5 664.5 L 329.3 661.2 L 361.5 650.1 L 365.5 651.1 L 380.6 660.2 L 383.6 664.2 L 408.8 677.3 L 408.8 681.3 L 383.6 693.4 L 380.6 692.4 L 379.6 689.3 L 359.5 677.3 L 350.4 679.3 L 334.3 697.4 C 328 699, 320 700.5, 314.2 700.4 C 309 700, 304 698, 301.1 695.4 C 297 691, 294 687, 293 682.3 C 292.5 678, 292.5 674, 293 671.2 C 294.5 669, 297.5 668.3, 300.1 668.2 C 301 667, 301.1 665, 301.1 663.2 Z" fill="none" stroke="#111" stroke-width="2.3" stroke-linejoin="round" stroke-linecap="round" />
<ellipse cx="309.7" cy="657.6" rx="3.2" ry="5.5" transform="rotate(-20 309.7 657.6)" fill="none" stroke="#111" stroke-width="2"/>
<ellipse cx="301.6" cy="682.3" rx="3.2" ry="5.5" transform="rotate(-20 301.6 682.3)" fill="none" stroke="#111" stroke-width="2"/>
<ellipse cx="309.9" cy="657.6" rx="1.2" ry="3" transform="rotate(-20 309.9 657.6)" fill="none" stroke="#111" stroke-width="1"/>
<ellipse cx="301.8" cy="682.3" rx="1.2" ry="3" transform="rotate(-20 301.8 682.3)" fill="none" stroke="#111" stroke-width="1"/>
<line x1="322.2" y1="675.2" x2="313.7" y2="696.9" stroke="#111" stroke-width="1.8" stroke-linecap="round"/>
<line x1="330.3" y1="663.2" x2="381.6" y2="690.3" stroke="#111" stroke-width="1.5" stroke-linecap="round"/>
<ellipse cx="382.6" cy="676.8" rx="8" ry="5" transform="rotate(-5 382.6 676.8)" fill="none" stroke="#111" stroke-width="2"/>
<line x1="383.6" y1="691" x2="408" y2="679" stroke="#111" stroke-width="1.2" stroke-linecap="round"/>
<line x1="267.1" y1="723.7" x2="300.4" y2="696.6" stroke="#111" stroke-width="1.9" stroke-linecap="round"/>
<line x1="401" y1="691.1" x2="416.5" y2="699.7" stroke="#111" stroke-width="1.6" stroke-linecap="round"/>
<path d="M 312.0 750.0 L 505.9 638.4 L 631.3 638.4 L 630.4 782.3 L 447.3 886.4 L 311.8 885.8 Z" fill="none" stroke="#111" stroke-width="2" stroke-linejoin="round" stroke-linecap="round" stroke-dasharray="13 4.5"/>
<line x1="265.2" y1="808.3" x2="311.4" y2="814" stroke="#111" stroke-width="1.9" stroke-linecap="round"/>
<path d="M 417 703.5 C 417 702, 418 701, 419.5 700.2 L 444 686.3 C 445.5 685.3, 447.5 685.3, 449 686.2 L 469 697.2 C 470.5 698, 471.2 699.5, 471.2 701 L 471.2 715.5 C 471.2 717.5, 470 719, 468 720 L 442 733.8 C 440.5 734.7, 439 734.7, 437.5 733.8 L 419 723.5 C 417.5 722.6, 417 721.5, 417 720 Z" fill="none" stroke="#111" stroke-width="2.4" stroke-linejoin="round" stroke-linecap="round" />
<line x1="421.7" y1="703.6" x2="436.4" y2="711.4" stroke="#111" stroke-width="1.8" stroke-linecap="round"/>
<line x1="438.7" y1="716" x2="438.9" y2="733.5" stroke="#111" stroke-width="1.8" stroke-linecap="round"/>
<line x1="440.2" y1="712.2" x2="465.8" y2="698.2" stroke="#111" stroke-width="1.8" stroke-linecap="round"/>
<path d="M 441.8 716.8 L 466 703 C 467 702.5, 467.5 703.5, 467 705 L 466.6 706.5 L 442.5 720.5 C 441.5 721, 441 720, 441.3 718.8 Z" fill="none" stroke="#111" stroke-width="1.8" stroke-linejoin="round" stroke-linecap="round" />
<path d="M 441.8 727.6 L 462.5 716.5 C 463.5 716, 464 717, 463.5 718.5 L 463 720 L 442.5 731.3 C 441.5 731.8, 441 730.8, 441.3 729.6 Z" fill="none" stroke="#111" stroke-width="1.8" stroke-linejoin="round" stroke-linecap="round" />
<line x1="396.3" y1="739.1" x2="425" y2="727.5" stroke="#111" stroke-width="1.9" stroke-linecap="round"/>
<line x1="455.7" y1="710.6" x2="477.4" y2="723.8" stroke="#111" stroke-width="1.7" stroke-linecap="round"/>
<path d="M 485 692.5 L 490 697.5" fill="none" stroke="#111" stroke-width="5" stroke-linecap="butt" stroke-linejoin="round"/>
<path d="M 485 692.5 L 490 697.5" fill="none" stroke="#fff" stroke-width="1.3" stroke-linecap="butt" stroke-linejoin="round"/>
<line x1="487" y1="692" x2="484.5" y2="695" stroke="#111" stroke-width="1" stroke-linecap="round"/>
<line x1="489" y1="694" x2="486.5" y2="697" stroke="#111" stroke-width="1" stroke-linecap="round"/>
<ellipse cx="482.3" cy="689.3" rx="4.4" ry="4.2" transform="rotate(0 482.3 689.3)" fill="none" stroke="#111" stroke-width="2.3"/>
<line x1="489.2" y1="686.7" x2="517" y2="667.2" stroke="#111" stroke-width="1.9" stroke-linecap="round"/>
<path d="M 505.8 701 L 534.3 691.1 C 539 690.5, 543 692, 546.7 694.9 C 551 698, 556 701, 559.1 704.8 C 562 709, 564 713, 565.3 717.2 C 566.5 721, 567 725, 566.5 729.5 C 566 733, 564.5 736, 562.8 739.4 C 560 743, 556 746, 551.6 749.3 L 536.8 760.5" fill="none" stroke="#111" stroke-width="2.3" stroke-linejoin="round" stroke-linecap="round" />
<path d="M 487.2 714.7 C 489 710, 491 707, 493.4 704.8 C 496.5 702.5, 500 701, 503.3 701 C 508 701, 512 702.5, 515.7 704.8 C 521 708, 525 712, 528.1 717.2 C 532 723, 535 729, 536.8 735.7 C 538.5 741, 539.5 746, 539.3 751.8 C 539 756, 538 760, 535.5 764.2 C 533 766, 530 767, 526.9 766.7 C 523 766.5, 520 766, 517 765.4 C 513 764, 510 762, 507.1 759.3 C 502 756, 498 753, 494.7 749.3 C 491.5 745, 489.5 740, 488.5 735.7 C 487.5 731, 487 727, 487.2 723.3" fill="none" stroke="#111" stroke-width="2" stroke-linejoin="round" stroke-linecap="round" />
<path d="M 490.5 715 C 492 711, 494 708, 496.5 706.5 C 499 705, 502 704.5, 505 705 C 509 705.5, 512 707, 515 709.5 C 520 713, 524 718, 527 723 C 530.5 729, 533 735, 534.5 742 C 535.5 747, 535.5 752, 534.5 757 C 533.5 760, 532 762, 529 763" fill="none" stroke="#111" stroke-width="1.3" stroke-linejoin="round" stroke-linecap="round" />
<ellipse cx="516.5" cy="734" rx="10.5" ry="15.5" transform="rotate(-30 516.5 734)" fill="none" stroke="#111" stroke-width="2.2"/>
<ellipse cx="517.5" cy="735.5" rx="7" ry="11" transform="rotate(-30 517.5 735.5)" fill="none" stroke="#111" stroke-width="1.8"/>
<path d="M 512 720 C 516 724, 519 731, 520 738" fill="none" stroke="#111" stroke-width="1.2" stroke-linejoin="round" stroke-linecap="round" />
<path d="M 493.4 718.4 L 469.9 732.0 L 473.6 734.5 L 492.2 753.1 L 514.5 761.7" fill="none" stroke="#111" stroke-width="1.9" stroke-linejoin="round" stroke-linecap="round"/>
<line x1="491" y1="722.1" x2="473.6" y2="733.3" stroke="#111" stroke-width="1.2" stroke-linecap="round"/>
<path d="M 491.0 751.0 L 496.0 749.0 L 497.0 755.0 L 492.0 757.0 Z" fill="none" stroke="#111" stroke-width="1.4" stroke-linejoin="round" stroke-linecap="round"/>
<path d="M 513.0 758.0 L 518.0 756.0 L 519.0 762.0 L 514.0 764.0 Z" fill="none" stroke="#111" stroke-width="1.4" stroke-linejoin="round" stroke-linecap="round"/>
<path d="M 490.0 718.5 L 495.0 715.5 L 496.0 719.5 L 491.5 722.5 Z" fill="none" stroke="#111" stroke-width="1.3" stroke-linejoin="round" stroke-linecap="round"/>
<path d="M 559.5 705 L 576.4 698.6" fill="none" stroke="#111" stroke-width="5.2" stroke-linecap="butt" stroke-linejoin="round"/>
<path d="M 559.5 705 L 576.4 698.6" fill="none" stroke="#fff" stroke-width="1.5" stroke-linecap="butt" stroke-linejoin="round"/>
<path d="M 579 694.9 C 583 693.5, 587 692.3, 591.3 692.4 C 595.5 693, 599 696, 601.2 699.8 C 603 703.5, 603.7 708, 603.7 712.2 L 603.7 727.1" fill="none" stroke="#111" stroke-width="6.2" stroke-linecap="butt" stroke-linejoin="round"/>
<path d="M 579 694.9 C 583 693.5, 587 692.3, 591.3 692.4 C 595.5 693, 599 696, 601.2 699.8 C 603 703.5, 603.7 708, 603.7 712.2 L 603.7 727.1" fill="none" stroke="#fff" stroke-width="2.3" stroke-linecap="butt" stroke-linejoin="round"/>
<line x1="602.5" y1="728" x2="596.5" y2="748" stroke="#111" stroke-width="1.5" stroke-linecap="round"/>
<line x1="605" y1="728" x2="607.4" y2="748" stroke="#111" stroke-width="1.5" stroke-linecap="round"/>
<path d="M 594.4 749.1 L 599.4 749.1 L 599.4 757.7 L 598.6 757.7 L 598.6 764.1 L 595.0 764.1 L 595.0 757.7 L 594.4 757.7 Z" fill="none" stroke="#111" stroke-width="2.7" stroke-linejoin="round"/>
<line x1="594.4" y1="757.7" x2="599.4" y2="757.7" stroke="#111" stroke-width="2.6"/>
<path d="M 605.0 749.1 L 610.3 749.1 L 610.3 757.7 L 609.5 757.7 L 609.5 764.1 L 605.6 764.1 L 605.6 757.7 L 605.0 757.7 Z" fill="none" stroke="#111" stroke-width="2.7" stroke-linejoin="round"/>
<line x1="605.0" y1="757.7" x2="610.3" y2="757.7" stroke="#111" stroke-width="2.6"/>
<circle cx="435.6" cy="777.6" r="14.2" fill="none" stroke="#111" stroke-width="2.3"/>
<path d="M 440.2 761.7 L 458.7 751.8 C 462 750.5, 465 751.5, 467.4 754.3 C 470 756, 471.5 757, 472.4 758.6 C 473.5 761.5, 474 764.5, 473.6 767.3 C 473.5 770, 473 772, 472.4 773.5 L 447.6 789.6" fill="none" stroke="#111" stroke-width="2.2" stroke-linejoin="round" stroke-linecap="round" />
<path d="M 445 764 C 448.5 767, 450 772, 449.5 777 C 449 782, 447.5 786, 445.5 789" fill="none" stroke="#111" stroke-width="1.4" stroke-linejoin="round" stroke-linecap="round" />
<circle cx="468.7" cy="771" r="2" fill="none" stroke="#111" stroke-width="1.5"/>
<path d="M 466.5 753 C 469 754.5, 471 756.5, 471.5 759" fill="none" stroke="#111" stroke-width="2" stroke-linejoin="round" stroke-linecap="round" />
<path d="M 426 776 L 432 773 M 429 781 L 436 777 L 440 783 M 436 766 L 437 777 M 433 768 L 438 766" fill="none" stroke="#111" stroke-width="1.3" stroke-linejoin="round" stroke-linecap="round" />
<line x1="461.3" y1="782.3" x2="490" y2="813" stroke="#111" stroke-width="1.9" stroke-linecap="round"/>
<path d="M 336.1 805.7 C 334.5 809, 334 813, 334.3 816.8 C 334.5 821, 335.5 825, 337.4 829.2 C 339.5 833, 342 837, 344.8 840.4 C 348 844, 351 847, 354.7 849 C 358 851, 362 852.3, 365.9 852.1 C 369 852, 372 851, 374.5 849 L 411.7 831.7" fill="none" stroke="#111" stroke-width="2.4" stroke-linejoin="round" stroke-linecap="round" />
<path d="M 336.1 805.7 L 359.7 782.2 C 361.5 779.5, 363.5 777.5, 365.9 776 C 369.5 774, 373 773, 377 772.9 C 381 772.6, 385 773, 389.4 774.1" fill="none" stroke="#111" stroke-width="2.3" stroke-linejoin="round" stroke-linecap="round" />
<path d="M 389.4 774.1 C 393 775, 396.5 776.5, 399.3 778.4 C 403 781, 406.5 784.5, 409.2 788.3 C 412 792, 414.5 796, 416.6 800.7 C 418 805, 419 809.5, 419.1 814.3 C 419.2 818, 418.5 821.5, 416.6 824.3 C 415 827, 413.5 829.5, 411.7 831.7" fill="none" stroke="#111" stroke-width="2.4" stroke-linejoin="round" stroke-linecap="round" />
<path d="M 377 772.9 C 381 774, 384 775.5, 386.9 777.2 C 391.5 781, 396 785, 399.3 789.6 C 403 795, 406.5 801, 409.2 806.9 C 411 812, 412 818, 411.7 824.3 C 411.5 827, 411 829.5, 410.4 831.7" fill="none" stroke="#111" stroke-width="1.8" stroke-linejoin="round" stroke-linecap="round" />
<path d="M 383 773 C 388 776, 393 780, 397 785 C 402 791, 407 799, 410.5 806 C 413.5 813, 415 819, 414.5 826" fill="none" stroke="#111" stroke-width="1.4" stroke-linejoin="round" stroke-linecap="round" />
<path d="M 372 828 C 374.5 835, 375 842, 374.5 849" fill="none" stroke="#111" stroke-width="1.5" stroke-linejoin="round" stroke-linecap="round" />
<ellipse cx="352.5" cy="825.5" rx="15" ry="22.5" transform="rotate(-39 352.5 825.5)" fill="none" stroke="#111" stroke-width="1.7" stroke-dasharray="40 6 20 8" stroke-dashoffset="5"/>
<ellipse cx="352.5" cy="825.5" rx="11.5" ry="17.5" transform="rotate(-39 352.5 825.5)" fill="none" stroke="#111" stroke-width="1.7" stroke-dasharray="30 5 25 6" stroke-dashoffset="12"/>
<ellipse cx="352.5" cy="825.5" rx="8" ry="12.5" transform="rotate(-39 352.5 825.5)" fill="none" stroke="#111" stroke-width="1.7" stroke-dasharray="22 4 18 5" stroke-dashoffset="3"/>
<ellipse cx="352.5" cy="825.5" rx="5" ry="8" transform="rotate(-39 352.5 825.5)" fill="none" stroke="#111" stroke-width="1.6" stroke-dasharray="14 3 10 3" stroke-dashoffset="7"/>
<ellipse cx="352.5" cy="825.5" rx="2.5" ry="4.5" transform="rotate(-39 352.5 825.5)" fill="none" stroke="#111" stroke-width="1.6" stroke-dasharray="8 2" stroke-dashoffset="0"/>
<clipPath id="c2"><path d="M 381 798 L 404 790 L 410 826 L 375 846 L 380 830 Z"/></clipPath>
<g clip-path="url(#c2)"><line x1="370" y1="806.0" x2="412" y2="787.0" stroke="#111" stroke-width="1.1"/><line x1="370" y1="809.6" x2="412" y2="790.6" stroke="#111" stroke-width="1.1"/><line x1="370" y1="813.2" x2="412" y2="794.2" stroke="#111" stroke-width="1.1"/><line x1="370" y1="816.8" x2="412" y2="797.8" stroke="#111" stroke-width="1.1"/><line x1="370" y1="820.4" x2="412" y2="801.4" stroke="#111" stroke-width="1.1"/><line x1="370" y1="824.0" x2="412" y2="805.0" stroke="#111" stroke-width="1.1"/><line x1="370" y1="827.6" x2="412" y2="808.6" stroke="#111" stroke-width="1.1"/><line x1="370" y1="831.2" x2="412" y2="812.2" stroke="#111" stroke-width="1.1"/><line x1="370" y1="834.8" x2="412" y2="815.8" stroke="#111" stroke-width="1.1"/><line x1="370" y1="838.4" x2="412" y2="819.4" stroke="#111" stroke-width="1.1"/><line x1="370" y1="842.0" x2="412" y2="823.0" stroke="#111" stroke-width="1.1"/><line x1="370" y1="845.6" x2="412" y2="826.6" stroke="#111" stroke-width="1.1"/><line x1="370" y1="849.2" x2="412" y2="830.2" stroke="#111" stroke-width="1.1"/><line x1="370" y1="852.8" x2="412" y2="833.8" stroke="#111" stroke-width="1.1"/><line x1="370" y1="856.4" x2="412" y2="837.4" stroke="#111" stroke-width="1.1"/><line x1="370" y1="860.0" x2="412" y2="841.0" stroke="#111" stroke-width="1.1"/></g>
<line x1="417.1" y1="824.4" x2="447.3" y2="842.5" stroke="#111" stroke-width="1.9" stroke-linecap="round"/>
<path d="M 48.0 860.4 L 60.4 841.0 L 63.5 842.6 L 89.8 829.4 L 91.3 849.5 L 65.0 863.5 L 62.7 869.7 Z" fill="none" stroke="#111" stroke-width="2.2" stroke-linejoin="round" stroke-linecap="round"/>
<line x1="51" y1="859" x2="62" y2="843.5" stroke="#111" stroke-width="1.3" stroke-linecap="round"/>
<line x1="64" y1="845.5" x2="89" y2="832.5" stroke="#111" stroke-width="1.3" stroke-linecap="round"/>
<text x="0" y="0" font-size="16" font-weight="bold" textLength="27" lengthAdjust="spacingAndGlyphs" transform="translate(62.5,862) skewY(-23)" style="font-family:'Liberation Sans',sans-serif;fill:#111">FWD</text>
<g class="lbl">
<text x="239.7" y="233.7" font-size="15.3" textLength="9.3" lengthAdjust="spacingAndGlyphs">9</text>
<line x1="282" y1="200.8" x2="282" y2="211" stroke="#111" stroke-width="2.3" stroke-linecap="round"/>
<text x="285.2" y="211.0" font-size="15.3" textLength="11.7" lengthAdjust="spacingAndGlyphs">0</text>
<text x="334.0" y="185.9" font-size="17.3" textLength="8.8" lengthAdjust="spacingAndGlyphs">8</text>
<line x1="143.5" y1="289.5" x2="143.5" y2="299.7" stroke="#111" stroke-width="2.3" stroke-linecap="round"/>
<line x1="152.7" y1="289.5" x2="152.7" y2="299.7" stroke="#111" stroke-width="2.3" stroke-linecap="round"/>
<line x1="377.5" y1="284.0" x2="377.5" y2="293.2" stroke="#111" stroke-width="2.3" stroke-linecap="round"/>
<text x="380.7" y="293.2" font-size="13.9" textLength="8.8" lengthAdjust="spacingAndGlyphs">3</text>
<line x1="453.6" y1="325.7" x2="453.6" y2="335" stroke="#111" stroke-width="2.3" stroke-linecap="round"/>
<text x="456.8" y="335.0" font-size="14.0" textLength="9.8" lengthAdjust="spacingAndGlyphs">3</text>
<line x1="257.6" y1="403.0" x2="257.6" y2="412.1" stroke="#111" stroke-width="2.3" stroke-linecap="round"/>
<text x="260.8" y="412.1" font-size="13.7" textLength="8.9" lengthAdjust="spacingAndGlyphs">4</text>
<line x1="385.7" y1="486.7" x2="385.7" y2="495.8" stroke="#111" stroke-width="2.3" stroke-linecap="round"/>
<text x="388.9" y="495.8" font-size="13.7" textLength="11.0" lengthAdjust="spacingAndGlyphs">4</text>
<text x="570.3" y="507.4" font-size="14.0" textLength="8.0" lengthAdjust="spacingAndGlyphs">7</text>
<line x1="138.2" y1="627.2" x2="138.2" y2="637.5" stroke="#111" stroke-width="2.3" stroke-linecap="round"/>
<text x="141.4" y="637.5" font-size="15.4" textLength="9.9" lengthAdjust="spacingAndGlyphs">2</text>
<text x="255.1" y="735.2" font-size="15.0" textLength="8.1" lengthAdjust="spacingAndGlyphs">6</text>
<text x="384.0" y="748.0" font-size="15.0" textLength="9.2" lengthAdjust="spacingAndGlyphs">5</text>
<text x="518.6" y="666.7" font-size="14.9" textLength="9.3" lengthAdjust="spacingAndGlyphs">3</text>
<line x1="254.5" y1="802.5" x2="254.5" y2="813" stroke="#111" stroke-width="2.3" stroke-linecap="round"/>
<text x="450.1" y="853.6" font-size="18.3" textLength="8.2" lengthAdjust="spacingAndGlyphs">2</text>
<text x="492.0" y="825.7" font-size="16.6" textLength="9.2" lengthAdjust="spacingAndGlyphs">4</text>
</g>
<path d="M 71.6 587.3 L 74 584.8 L 81.5 584.5" fill="none" stroke="#111" stroke-width="2.6" stroke-linejoin="round" stroke-linecap="round" />
<line x1="81.5" y1="583.8" x2="81.5" y2="597.3" stroke="#111" stroke-width="3.2" stroke-linecap="round"/>
<line x1="28.6" y1="886.5" x2="26.6" y2="895" stroke="#111" stroke-width="1.6" stroke-linecap="round"/>
<text x="30.2" y="895.2" font-size="12.8" textLength="8.5" lengthAdjust="spacingAndGlyphs" style="font-family:'Liberation Sans',sans-serif;fill:#111">R</text>
<text x="39.5" y="895.2" font-size="12.8" textLength="6.9" lengthAdjust="spacingAndGlyphs" style="font-family:'Liberation Sans',sans-serif;fill:#111">J</text>
<text x="47.2" y="895.2" font-size="12.8" textLength="10.1" lengthAdjust="spacingAndGlyphs" style="font-family:'Liberation Sans',sans-serif;fill:#111">7</text>
<text x="58" y="895.2" font-size="12.8" textLength="9.3" lengthAdjust="spacingAndGlyphs" style="font-family:'Liberation Sans',sans-serif;fill:#111">0</text>
<text x="68.1" y="895.2" font-size="12.8" textLength="9.3" lengthAdjust="spacingAndGlyphs" style="font-family:'Liberation Sans',sans-serif;fill:#111">0</text>
<text x="86.7" y="895.2" font-size="12.8" textLength="8.5" lengthAdjust="spacingAndGlyphs" style="font-family:'Liberation Sans',sans-serif;fill:#111">6</text>
<text x="96.7" y="895.2" font-size="12.8" textLength="8.6" lengthAdjust="spacingAndGlyphs" style="font-family:'Liberation Sans',sans-serif;fill:#111">3</text>
<text x="106.8" y="895.2" font-size="12.8" textLength="7.8" lengthAdjust="spacingAndGlyphs" style="font-family:'Liberation Sans',sans-serif;fill:#111">3</text>
<text x="115.3" y="895.2" font-size="12.8" textLength="8.5" lengthAdjust="spacingAndGlyphs" style="font-family:'Liberation Sans',sans-serif;fill:#111">0</text>
<rect x="80.5" y="889" width="2.3" height="2.3" fill="#111"/>
<circle cx="340" cy="2.5" r="1" fill="#111"/>
<circle cx="422.5" cy="92.5" r="0.9" fill="#111"/>
<circle cx="633.4" cy="64" r="0.6" fill="#111"/>
<circle cx="615" cy="87.3" r="0.7" fill="#111"/>
<circle cx="609.3" cy="122.6" r="1.1" fill="#111"/>
<circle cx="618.6" cy="160.2" r="1.6" fill="#111"/>
<circle cx="624.1" cy="184.9" r="0.8" fill="#111"/>
<circle cx="634" cy="214.2" r="0.8" fill="#111"/>
<circle cx="32.5" cy="265" r="1.2" fill="#111"/>
<circle cx="144" cy="261.5" r="1" fill="#111"/>
<circle cx="209.4" cy="278.4" r="0.9" fill="#111"/>
<circle cx="320" cy="280" r="1" fill="#111"/>
<circle cx="520" cy="357.5" r="0.9" fill="#111"/>
<circle cx="572.5" cy="457.5" r="0.9" fill="#111"/>
<circle cx="1133" cy="911" r="1" fill="#111"/>
<circle cx="1285" cy="325" r="1" fill="#111"/>
<circle cx="1082.5" cy="384.5" r="1.1" fill="#111"/>
<circle cx="1083" cy="452.5" r="1.1" fill="#111"/>
<circle cx="733" cy="174" r="1" fill="#111"/>
<circle cx="187" cy="581" r="0.9" fill="#111"/>
<circle cx="294" cy="757" r="1" fill="#111"/>
<circle cx="506" cy="845" r="0.8" fill="#111"/>
<circle cx="71" cy="687" r="1" fill="#111"/>
<circle cx="8.5" cy="792" r="0.9" fill="#111"/>
<circle cx="17" cy="963" r="1" fill="#111"/>
<circle cx="68" cy="968.5" r="1" fill="#111"/>
</svg>
</body></html>
